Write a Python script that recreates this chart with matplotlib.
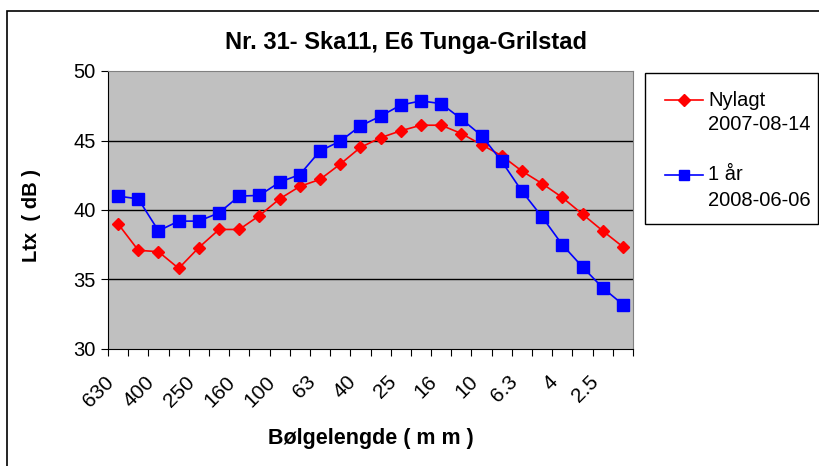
import numpy as np
import matplotlib
matplotlib.use("Agg")
import matplotlib.pyplot as plt
from matplotlib.patches import Rectangle
from matplotlib.lines import Line2D
from matplotlib.transforms import blended_transform_factory, offset_copy

plt.rcParams['font.family'] = ['Liberation Sans', 'DejaVu Sans']

wavelengths = ["630", "500", "400", "315", "250", "200", "160", "125", "100", "80",
               "63", "50", "40", "31.5", "25", "20", "16", "12.5", "10", "8",
               "6.3", "5", "4", "3.15", "2.5", "2"]
nylagt = [39.0, 37.1, 37.0, 35.8, 37.3, 38.6, 38.6, 39.6, 40.8, 41.7,
          42.2, 43.3, 44.5, 45.2, 45.7, 46.1, 46.1, 45.5, 44.7, 43.9,
          42.8, 41.9, 40.9, 39.7, 38.5, 37.35]
ett_aar = [41.0, 40.8, 38.5, 39.2, 39.2, 39.8, 41.0, 41.05, 42.0, 42.55,
           44.25, 44.95, 46.05, 46.75, 47.55, 47.85, 47.65, 46.55, 45.35, 43.5,
           41.35, 39.5, 37.5, 35.9, 34.4, 33.2]
label_nylagt = ["Nylagt", "2007-08-14"]
label_ett = ["1 år", "2008-06-06"]

W, H = 819, 466
fig = plt.figure(figsize=(W / 100, H / 100), dpi=100)


def fx(px):
    return px / W


def fy(py):
    return 1 - py / H


ax = fig.add_axes([fx(108), fy(349), (633 - 108) / W, (349 - 71) / H])

# outer chart border (right/bottom edges run off the picture)
fig.patches.append(Rectangle((fx(7), -0.1), 1.2, fy(11) + 0.1, transform=fig.transFigure,
                             fill=False, edgecolor='black', linewidth=1.2))

x = np.arange(len(wavelengths))
ax.set_facecolor('#C0C0C0')
ax.plot(x, nylagt, color='#FF0000', marker='D', markersize=6, linewidth=1.2)
ax.plot(x, ett_aar, color='#0000FF', marker='s', markersize=8, linewidth=1.2)

ax.set_xlim(-0.5, len(wavelengths) - 0.5)
ax.set_ylim(30, 50)
ax.set_yticks([30, 35, 40, 45, 50])
for yv in [35, 40, 45]:
    ax.axhline(yv, color='black', linewidth=1, zorder=0.5)

ax.set_xticks(np.arange(len(wavelengths) + 1) - 0.5)
ax.set_xticklabels([])
ax.tick_params(axis='x', length=5, direction='out', color='black')
ax.tick_params(axis='y', length=5, direction='out', labelsize=14.5, color='black', pad=4)

# rotated category labels, every second one
trans = blended_transform_factory(ax.transData, ax.transAxes)
trans = offset_copy(trans, fig=fig, x=-7, y=-30, units='dots')
for i in x[::2][:13]:
    ax.text(i, 0, wavelengths[i], transform=trans, rotation=45, rotation_mode='anchor',
            ha='right', va='center', fontsize=15, clip_on=False)

for s in ['top', 'right']:
    ax.spines[s].set_color('#808080')
for s in ['left', 'bottom']:
    ax.spines[s].set_color('black')

fig.text(fx(406), fy(42), "Nr. 31- Ska11, E6 Tunga-Grilstad", ha='center', va='center',
         fontsize=17, fontweight='bold')
ax.set_ylabel("Ltx  ( dB )", fontsize=14.5, fontweight='bold')
ax.yaxis.set_label_coords((41 - 108) / 525, 0.48)
ax.set_xlabel("Bølgelengde ( m m )", fontsize=15.5, fontweight='bold')
ax.xaxis.set_label_coords(0.5, (349 - 428) / 278)

# legend box
fig.patches.append(Rectangle((fx(645), fy(224)), (818 - 645) / W, (224 - 73) / H,
                             transform=fig.transFigure, facecolor='white',
                             edgecolor='black', linewidth=1))
for yy, col, mk, ms, lab in [(100, '#FF0000', 'D', 6, label_nylagt),
                             (175, '#0000FF', 's', 7, label_ett)]:
    fig.lines.append(Line2D([fx(665), fx(703)], [fy(yy), fy(yy)], transform=fig.transFigure,
                            color=col, linewidth=1.2))
    fig.lines.append(Line2D([fx(684)], [fy(yy)], transform=fig.transFigure,
                            color=col, marker=mk, markersize=ms, linestyle='none'))
    fig.text(fx(708), fy(yy), lab[0], ha='left', va='center', fontsize=14.5)
    fig.text(fx(708), fy(yy + 25), lab[1], ha='left', va='center', fontsize=14.5)

fig.savefig("out.png", dpi=100)
